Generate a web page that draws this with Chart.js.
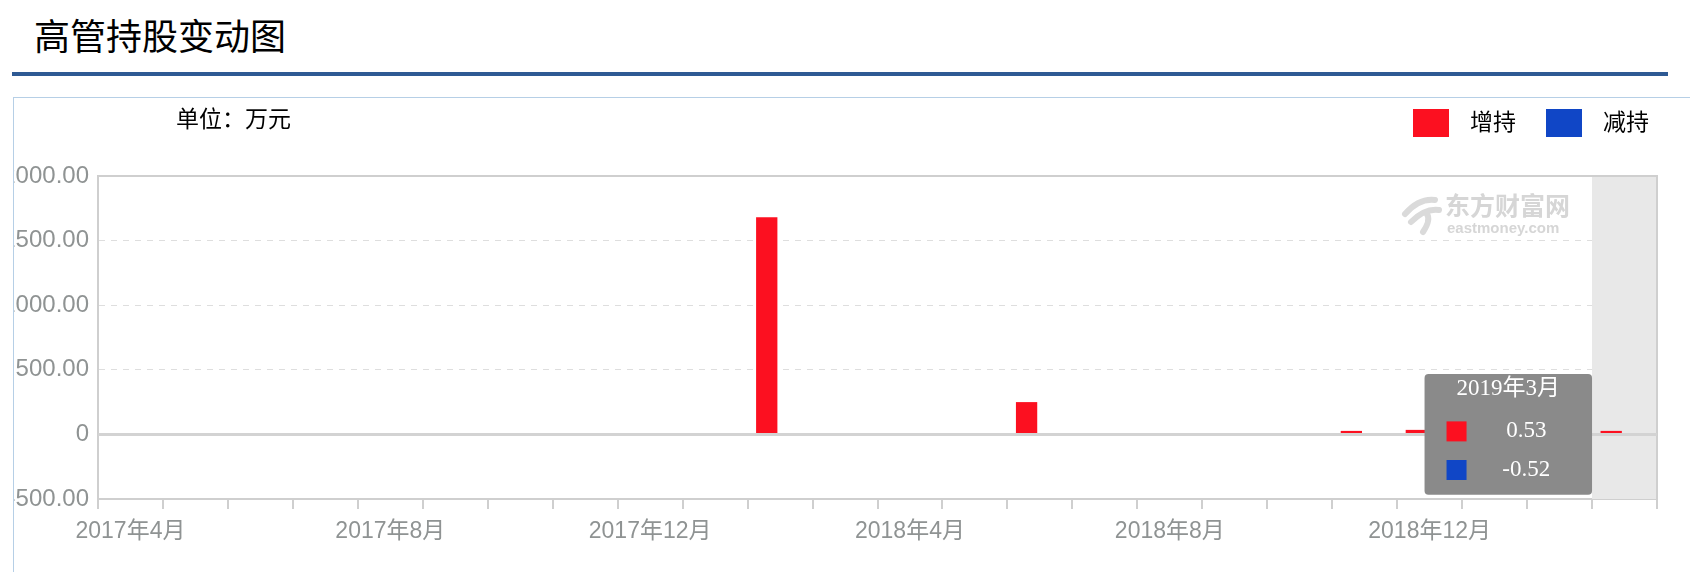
<!DOCTYPE html>
<html>
<head>
<meta charset="utf-8">
<script src="https://cdn.jsdelivr.net/npm/chart.js@4.4.1/dist/chart.umd.min.js"></script>
<style>
  body { margin: 0; background: #fff; width: 1690px; height: 572px; overflow: hidden; position: relative; font-family: 'Noto Sans CJK SC', sans-serif; }
  #title { position: absolute; left: 34px; top: 13px; font-size: 36px; line-height: 1.2; color: #000; }
  #rule { position: absolute; left: 12px; top: 72px; width: 1656px; height: 4px; background: #2e5a94; }
  #panel { position: absolute; left: 13px; top: 97px; width: 1690px; height: 480px; border-left: 1px solid #b6cfe6; border-top: 1px solid #b6cfe6; overflow: hidden; }
  #unit { position: absolute; left: 162px; top: 8px; font-size: 23px; line-height: 1.2; font-family: 'Liberation Serif', 'Noto Sans CJK SC', serif; color: #000; }
  #legend { position: absolute; left: 1399px; top: 11px; display: flex; align-items: center; font-size: 23px; line-height: 28px; font-family: 'Liberation Serif', 'Noto Sans CJK SC', serif; color: #000; }
  #legend .box { width: 36px; height: 28px; margin-right: 21px; }
  #legend .txt { margin-right: 30px; }
  #wrap { position: absolute; left: -60px; top: 0; }
</style>
</head>
<body>
<div id="title">高管持股变动图</div>
<div id="rule"></div>
<div id="panel">
  <div id="wrap"><canvas id="chart" width="1760" height="474"></canvas></div>
  <div id="unit">单位：万元</div>
  <div id="legend"></div>
</div>
<script>
'use strict';

// 月份（类目）
var months = ['2017年4月', '2017年5月', '2017年6月', '2017年7月', '2017年8月', '2017年9月',
              '2017年10月', '2017年11月', '2017年12月', '2018年1月', '2018年2月', '2018年3月',
              '2018年4月', '2018年5月', '2018年6月', '2018年7月', '2018年8月', '2018年9月',
              '2018年10月', '2018年11月', '2018年12月', '2019年1月', '2019年2月', '2019年3月'];
var shownMonths = ['2017年4月', '2017年8月', '2017年12月', '2018年4月', '2018年8月', '2018年12月'];
var hoverMonth = '2019年3月';

var seriesNames = ['增持', '减持'];
var seriesColors = ['#fc1020', '#1046c6'];

// 单位：万元
var increase = [null, null, null, null, null, null, null, null, null, null, 1680, null,
                null, null, 250, null, null, null, null, 27, 35, null, null, 0.53];
var decrease = [null, null, null, null, null, null, null, null, null, null, null, null,
                null, null, null, null, null, null, null, null, null, null, null, -0.52];

var yTicks = [-500, 0, 500, 1000, 1500, 2000];
var solidTicks = [-500, 0, 2000];

var sans = "'Liberation Sans', 'Noto Sans CJK SC', sans-serif";
var serif = "'Liberation Serif', 'Noto Sans CJK SC', serif";
var tipFont = { family: serif, size: 23, weight: 'normal' };

// legend
var legend = document.getElementById('legend');
seriesNames.forEach(function (name, k) {
  var b = document.createElement('span');
  b.className = 'box';
  b.style.background = seriesColors[k];
  var t = document.createElement('span');
  t.className = 'txt';
  t.textContent = name;
  legend.appendChild(b);
  legend.appendChild(t);
});

// tooltip sits just left of the highlighted column, centred on the zero line
Chart.Tooltip.positioners.band = function (items) {
  if (!items.length) return false;
  var xs = this.chart.scales.x, ys = this.chart.scales.y;
  var half = (xs.getPixelForValue(1) - xs.getPixelForValue(0)) / 2;
  return { x: xs.getPixelForValue(items[0].index) - half, y: ys.getPixelForValue(0) };
};

var framePlugin = {
  id: 'frame',
  beforeDatasetsDraw: function (chart) {
    var ctx = chart.ctx, a = chart.chartArea, x = chart.scales.x;
    var i = months.indexOf(hoverMonth);
    var half = (x.getPixelForValue(1) - x.getPixelForValue(0)) / 2;
    var bx = x.getPixelForValue(i) - half;
    ctx.save();
    // highlighted column
    ctx.fillStyle = '#e8e8e8';
    ctx.fillRect(bx, a.top, a.right - bx, a.bottom - a.top);

    // watermark
    var wx = a.right - 256, wy = a.top + 20;
    ctx.strokeStyle = '#dadada';
    ctx.lineCap = 'round';
    ctx.lineWidth = 6;
    ctx.beginPath();
    ctx.moveTo(wx + 4, wy + 18); ctx.quadraticCurveTo(wx + 18, wy + 2, wx + 34, wy + 4);
    ctx.moveTo(wx + 10, wy + 26); ctx.quadraticCurveTo(wx + 24, wy + 12, wx + 38, wy + 14);
    ctx.moveTo(wx + 22, wy + 36); ctx.quadraticCurveTo(wx + 30, wy + 24, wx + 26, wy + 18);
    ctx.stroke();
    ctx.fillStyle = '#d6d6d6';
    ctx.textBaseline = 'top';
    ctx.font = "bold 25px 'Noto Sans CJK SC', sans-serif";
    ctx.fillText('东方财富网', wx + 44, wy - 3);
    ctx.font = "bold 15px 'Liberation Sans', sans-serif";
    ctx.fillText('eastmoney.com', wx + 46, wy + 25);

    // top and right edges of the plot
    ctx.strokeStyle = '#cfcfcf';
    ctx.lineWidth = 2;
    ctx.beginPath();
    ctx.moveTo(a.left, a.top); ctx.lineTo(a.right, a.top); ctx.lineTo(a.right, a.bottom);
    ctx.stroke();
    ctx.restore();
  },
  afterDatasetsDraw: function (chart) {
    var ctx = chart.ctx, a = chart.chartArea;
    var y0 = chart.scales.y.getPixelForValue(0);
    ctx.save();
    ctx.strokeStyle = '#d3d3d3';
    ctx.lineWidth = 3;
    ctx.beginPath();
    ctx.moveTo(a.left, y0); ctx.lineTo(a.right, y0);
    ctx.stroke();
    ctx.restore();
  }
};

var ctx = document.getElementById('chart').getContext('2d');
var chart = new Chart(ctx, {
  type: 'bar',
  data: {
    labels: months,
    datasets: [
      { label: seriesNames[0], data: increase, backgroundColor: seriesColors[0],
        categoryPercentage: 0.82, barPercentage: 0.8, minBarLength: 3.5, inflateAmount: 0 },
      { label: seriesNames[1], data: decrease, backgroundColor: seriesColors[1],
        categoryPercentage: 0.82, barPercentage: 0.8, inflateAmount: 0 }
    ]
  },
  options: {
    responsive: false,
    animation: false,
    events: [],
    devicePixelRatio: 1,
    layout: { padding: { top: 78, right: 57, bottom: 0, left: 0 } },
    interaction: { mode: 'index', intersect: false },
    plugins: {
      legend: { display: false },
      tooltip: {
        position: 'band',
        xAlign: 'right',
        yAlign: 'center',
        caretSize: 0,
        caretPadding: 0,
        cornerRadius: 4,
        backgroundColor: '#8a8a8a',
        titleColor: '#fff',
        bodyColor: '#fff',
        titleFont: tipFont,
        bodyFont: tipFont,
        titleAlign: 'center',
        bodyAlign: 'center',
        titleMarginBottom: 15,
        bodySpacing: 11,
        padding: { top: 1, bottom: 11, left: 21, right: 43 },
        boxWidth: 22,
        boxHeight: 22,
        boxPadding: 7,
        multiKeyBackground: 'rgba(0,0,0,0)',
        callbacks: {
          label: function (c) { return String(c.raw); },
          labelColor: function (c) {
            return { borderColor: 'rgba(0,0,0,0)', backgroundColor: seriesColors[c.datasetIndex], borderWidth: 0 };
          }
        }
      }
    },
    scales: {
      x: {
        grid: { offset: true, drawOnChartArea: false, drawTicks: true, tickLength: 10, color: '#cfcfcf', lineWidth: 2 },
        border: { display: true, color: '#cfcfcf', width: 2 },
        ticks: {
          autoSkip: false, maxRotation: 0, padding: 9, color: '#8f9393', font: { family: sans, size: 23 },
          callback: function (v, i) { return shownMonths.indexOf(months[i]) >= 0 ? months[i] : ''; }
        },
        afterFit: function (s) { s.height = 73; }
      },
      y: {
        min: -500,
        max: 2000,
        afterBuildTicks: function (s) { s.ticks = yTicks.map(function (v) { return { value: v }; }); },
        grid: {
          drawTicks: false,
          color: function (c) { return solidTicks.indexOf(c.tick.value) >= 0 ? '#cfcfcf' : '#dedede'; },
          lineWidth: function (c) { return solidTicks.indexOf(c.tick.value) >= 0 ? 2 : 1; }
        },
        border: {
          display: true, color: '#cfcfcf', width: 2,
          dash: function (c) { return (c.tick && solidTicks.indexOf(c.tick.value) < 0) ? [6, 6] : []; }
        },
        ticks: {
          padding: 9, color: '#8f9393', font: { family: sans, size: 24 },
          callback: function (v) { return v === 0 ? '0' : v.toFixed(2); }
        },
        afterFit: function (s) { s.width = 144; }
      }
    }
  },
  plugins: [framePlugin]
});

var hi = months.indexOf(hoverMonth);
chart.tooltip.setActiveElements([{ datasetIndex: 0, index: hi }, { datasetIndex: 1, index: hi }], { x: 0, y: 0 });
chart.update();
</script>
</body>
</html>
